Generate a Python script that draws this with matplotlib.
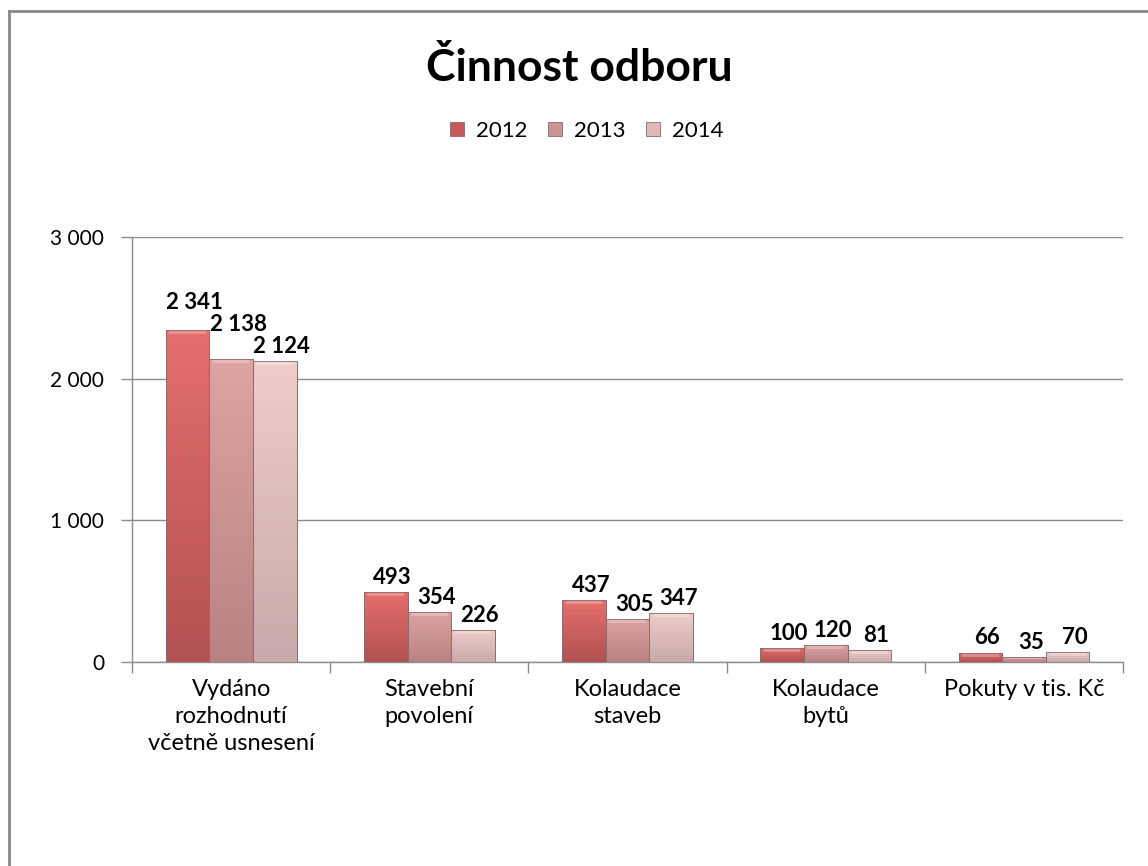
import matplotlib.pyplot as plt
import matplotlib.lines as mlines
from matplotlib.patches import Rectangle
import numpy as np

plt.rcParams['font.family'] = ['Lato', 'DejaVu Sans']

categories = ["Vydáno\nrozhodnutí\nvčetně usnesení", "Stavební\npovolení",
              "Kolaudace\nstaveb", "Kolaudace\nbytů", "Pokuty v tis. Kč"]
years = ["2012", "2013", "2014"]
v2012 = [2341, 493, 437, 100, 66]
v2013 = [2138, 354, 305, 120, 35]
v2014 = [2124, 226, 347, 81, 70]
yticks = [0, 1000, 2000, 3000]

series = [v2012, v2013, v2014]
# top / bottom colours for a soft vertical gradient
tops = ["#e46e6c", "#dea3a3", "#efcccc"]
bots = ["#b25252", "#b98282", "#c9a9a9"]
legend_cols = ["#c75a59", "#cc9393", "#dcbaba"]

def fmt(v):
    return f"{v:,}".replace(",", " ")

fig = plt.figure(figsize=(11.48, 8.66), dpi=100)
ax = fig.add_axes([0.1150, 0.2356, 0.8633, 0.4908])

x = np.arange(len(categories))
w = 0.22
labels = [[None] * len(series) for _ in categories]
for k, vals in enumerate(series):
    pos = x + (k - 1) * w
    bars = ax.bar(pos, vals, width=w, color=tops[k], edgecolor="#8a6a6a",
                  linewidth=0.6, zorder=3)
    c1 = np.array(plt.matplotlib.colors.to_rgb(tops[k]))
    c2 = np.array(plt.matplotlib.colors.to_rgb(bots[k]))
    grad = np.linspace(0, 1, 64)[:, None, None]
    img = c1 * (1 - grad) + c2 * grad
    for b in bars:
        x0, y0 = b.get_x(), b.get_y()
        bw, bh = b.get_width(), b.get_height()
        im = ax.imshow(img, extent=[x0, x0 + bw, y0, y0 + bh], aspect="auto",
                       origin="upper", zorder=3.1)
        im.set_clip_path(b)
        # light bevel strip on top
        ax.add_patch(Rectangle((x0 + bw * 0.08, y0 + bh - min(bh * 0.5, 28)),
                               bw * 0.84, min(bh * 0.5, 28), color="white",
                               alpha=0.25, zorder=3.2, lw=0))
        ax.add_patch(Rectangle((x0, y0), bw, bh, fill=False, ec="#8a6a6a",
                               lw=0.6, zorder=3.3))
    for i, (p, v) in enumerate(zip(pos, vals)):
        labels[i][k] = ax.annotate(fmt(v), (p, v), xytext=(5, 3),
                                   textcoords="offset points", ha="center",
                                   va="bottom", fontsize=16, fontweight="bold",
                                   zorder=5)

ax.set_xlim(-0.5, len(categories) - 0.5)
ax.set_ylim(0, 3000)
ax.set_yticks(yticks)
ax.set_yticklabels([fmt(t) for t in yticks], fontsize=15)
ax.yaxis.grid(True, color="#8c8c8c", linewidth=1)
ax.set_axisbelow(True)

ax.set_xticks(x)
ax.set_xticklabels(categories, fontsize=17, linespacing=1.35, va="top")
ax.tick_params(axis="x", which="major", length=0, pad=12)
ax.set_xticks(np.arange(-0.5, len(categories), 1), minor=True)
ax.tick_params(axis="x", which="minor", length=8, color="#8c8c8c", width=1)
ax.tick_params(axis="y", length=8, color="#8c8c8c", width=1, pad=12)

for s in ["top", "right"]:
    ax.spines[s].set_visible(False)
for s in ["left", "bottom"]:
    ax.spines[s].set_color("#8c8c8c")
    ax.spines[s].set_linewidth(1)

# lift labels that collide with their right-hand neighbour (like Excel does)
fig.canvas.draw()
r = fig.canvas.get_renderer()
for grp in labels:
    for k in range(len(grp) - 2, -1, -1):
        a = grp[k].get_window_extent(r)
        b = grp[k + 1].get_window_extent(r)
        if a.x1 > b.x0 and a.y0 < b.y1:
            dx, dy = grp[k].xyann
            grp[k].xyann = (dx, dy + (b.y1 - a.y0 + 1) * 72 / fig.dpi)
            fig.canvas.draw()

fig.text(0.505, 0.922, "Činnost odboru", ha="center", va="center",
         fontsize=32, fontweight="bold")

handles = [mlines.Line2D([], [], marker="s", linestyle="none", markersize=10,
                         markerfacecolor=c, markeredgecolor="#8a6a6a",
                         markeredgewidth=0.6) for c in legend_cols]
fig.legend(handles, years, loc="center", bbox_to_anchor=(0.511, 0.849), ncol=3,
           frameon=False, fontsize=16, handlelength=0.7, handletextpad=0.5,
           columnspacing=0.9)

# chart-area border (left and top edges visible)
fig.add_artist(mlines.Line2D([0.0075, 0.0075], [0.0, 0.987], color="#888888",
                             linewidth=2, transform=fig.transFigure))
fig.add_artist(mlines.Line2D([0.0075, 1.0], [0.987, 0.987], color="#888888",
                             linewidth=2, transform=fig.transFigure))

fig.savefig("out.png", dpi=100)
